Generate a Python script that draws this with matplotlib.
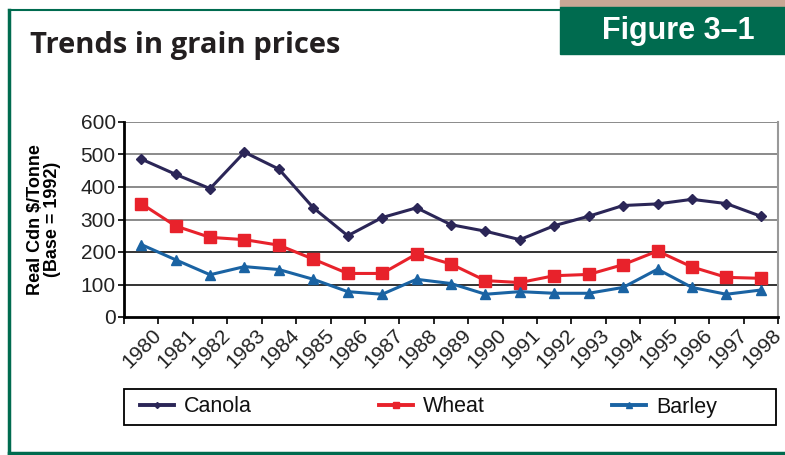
import matplotlib.pyplot as plt
from matplotlib.patches import Rectangle
from matplotlib.lines import Line2D
from matplotlib.transforms import ScaledTranslation

years = [str(y) for y in range(1980, 1999)]
canola = [486, 439, 395, 507, 455, 336, 250, 306, 336, 284, 264, 238, 281, 310, 343, 348, 362, 349, 310]
wheat = [349, 280, 245, 238, 221, 178, 134, 134, 194, 163, 112, 106, 127, 131, 161, 203, 154, 122, 119]
barley = [223, 176, 130, 155, 146, 116, 78, 70, 116, 103, 70, 78, 73, 73, 91, 147, 91, 70, 83]
yticks = [0, 100, 200, 300, 400, 500, 600]

GREEN = "#006b4f"
arial = ["Liberation Sans", "DejaVu Sans"]

fig = plt.figure(figsize=(7.85, 4.55), dpi=100)
ax = fig.add_axes([124 / 785, 1 - 317 / 455, 654 / 785, 195 / 455])

x = list(range(len(years)))

# -------- gridlines --------
for v in yticks[1:]:
    c = "#111111" if v <= 200 else "#777777"
    ax.axhline(v, color=c, lw=1.2, zorder=1)

ax.plot(x, canola, color="#2b2657", lw=2.2, marker="D", ms=5, label="Canola", zorder=3)
ax.plot(x, wheat, color="#e8222b", lw=2.2, marker="s", ms=8, label="Wheat", zorder=3)
ax.plot(x, barley, color="#1a63a3", lw=2.2, marker="^", ms=6.5, label="Barley", zorder=3)

ax.set_xlim(-0.5, len(years) - 0.5)
ax.set_ylim(0, 600)
ax.set_yticks(yticks)
ax.set_yticklabels([str(v) for v in yticks], fontsize=15, family=arial, color="#222222")

ax.set_xticks(x)
ax.set_xticks([i - 0.5 for i in range(len(years) + 1)], minor=True)
ax.tick_params(axis="x", which="major", length=0, pad=6)
ax.tick_params(axis="x", which="minor", length=5, width=1.2, direction="out")
ax.tick_params(axis="y", length=4, width=1.2, pad=2)
ax.set_xticklabels(years, rotation=45, ha="right", rotation_mode="anchor",
                   fontsize=15, family=arial, color="#222222")
shift = ScaledTranslation(11 / 100, 0, fig.dpi_scale_trans)
for lab in ax.get_xticklabels():
    lab.set_transform(lab.get_transform() + shift)

for s in ["left", "bottom"]:
    ax.spines[s].set_linewidth(2)
    ax.spines[s].set_color("black")
ax.spines["top"].set_visible(False)
ax.spines["right"].set_color("#999999")
ax.spines["right"].set_linewidth(1.5)

ax.set_ylabel("Real Cdn $/Tonne\n(Base = 1992)", fontsize=13, fontweight="bold",
              family=arial, linespacing=1.0, labelpad=14)

# -------- legend --------
fig.add_artist(Rectangle((124 / 785, 1 - 425 / 455), 652 / 785, 36 / 455, fill=False,
                         edgecolor="black", lw=1.3, transform=fig.transFigure))
leg = fig.legend(loc="center left", bbox_to_anchor=(140 / 785, 1 - 407 / 455),
                 ncol=3, frameon=False, handlelength=1.6, handletextpad=0.45,
                 columnspacing=5.9, borderpad=0, borderaxespad=0, markerscale=0.6,
                 prop={"family": arial, "size": 15.5})
for t in leg.get_texts():
    t.set_color("#111111")
for h in leg.legend_handles:
    h.set_linewidth(2.8)

# -------- frame and headings --------
fig.add_artist(Line2D([9 / 785, 9 / 785], [1 - 10 / 455, 1 - 453 / 455], color=GREEN, lw=2.5,
                      transform=fig.transFigure))
fig.add_artist(Line2D([9 / 785, 560 / 785], [1 - 10 / 455, 1 - 10 / 455], color=GREEN, lw=1.5,
                      transform=fig.transFigure))
fig.add_artist(Line2D([9 / 785, 1], [1 - 453 / 455, 1 - 453 / 455], color=GREEN, lw=2.5,
                      transform=fig.transFigure))
fig.add_artist(Rectangle((560 / 785, 1 - 7 / 455), 225 / 785, 7 / 455, color="#c9a795",
                         transform=fig.transFigure))
fig.add_artist(Rectangle((560 / 785, 1 - 54 / 455), 225 / 785, 47 / 455, color=GREEN,
                         transform=fig.transFigure))
fig.text(678 / 785, 1 - 31 / 455, "Figure 3\u20131", color="white", fontsize=22, fontweight="bold",
         family=arial, ha="center", va="center")
fig.text(30 / 785, 1 - 46 / 455, "Trends in grain prices", color="#231f20", fontsize=21,
         fontweight="bold", family=["Open Sans", "DejaVu Sans"], ha="left", va="center")

fig.savefig("out.png", dpi=100)
